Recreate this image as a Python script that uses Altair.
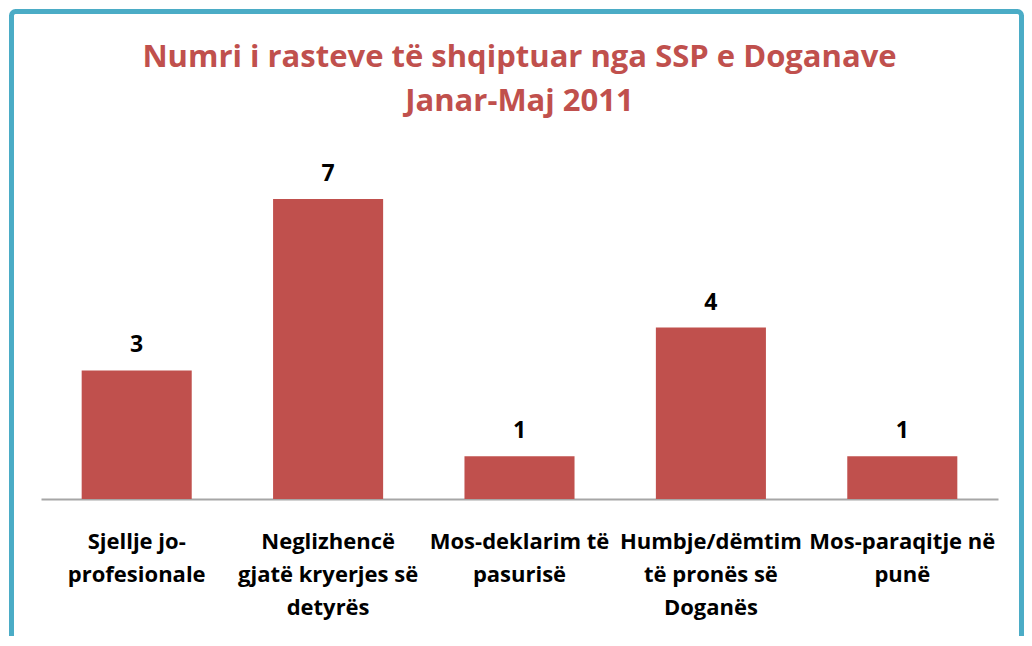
import altair as alt
import pandas as pd

categories = [
    "Sjellje jo-|profesionale",
    "Neglizhencë|gjatë kryerjes së|detyrës",
    "Mos-deklarim të|pasurisë",
    "Humbje/dëmtim|të pronës së|Doganës",
    "Mos-paraqitje në|punë",
]
values = [3, 7, 1, 4, 1]
title_lines = ["Numri i rasteve të shqiptuar nga SSP e Doganave", "Janar-Maj 2011"]

df = pd.DataFrame({"cat": categories, "val": values})

RED = "#C0504D"
FONT = "Open Sans"

x_enc = alt.X(
    "cat:N",
    sort=categories,
    scale=alt.Scale(paddingInner=0.425, paddingOuter=0.2125),
    axis=alt.Axis(
        title=None,
        ticks=False,
        domainColor="#A6A6A6",
        domainWidth=2,
        labelAngle=0,
        labelFont=FONT,
        labelFontSize=22,
        labelFontWeight="bold",
        labelColor="#000000",
        labelPadding=32,
        labelLimit=0,
        labelOverlap=False,
        labelBound=False,
        labelLineHeight=33,
        labelBaseline="top",
        labelExpr="split(datum.label, '|')",
    ),
)
y_enc = alt.Y("val:Q", scale=alt.Scale(domain=[0, 8], nice=False), axis=None)

base = alt.Chart(df)
bars = base.mark_bar(color=RED).encode(x=x_enc, y=y_enc)
labels = base.mark_text(
    font=FONT, fontSize=23, fontWeight="bold", color="#000000", baseline="bottom", dy=-13
).encode(x=alt.X("cat:N", sort=categories), y="val:Q", text="val:Q")

border = alt.Chart(pd.DataFrame({"a": [0]})).mark_rect(
    fill=None, stroke="#4BACC6", strokeWidth=5, cornerRadius=4
).encode(
    x=alt.value(-29.5), x2=alt.value(980.5), y=alt.value(-144.5), y2=alt.value(600)
)

chart = (
    alt.layer(border, bars, labels)
    .properties(
        width=957,
        height=343,
        background="white",
        autosize=alt.AutoSizeParams(type="none"),
        padding={"left": 33, "top": 148, "right": 26, "bottom": 137},
        title=alt.TitleParams(
            text=title_lines,
            font=FONT,
            fontSize=31,
            fontWeight="bold",
            color=RED,
            lineHeight=44,
            anchor="middle",
            offset=42,
            dy=151,
        ),
    )
    .configure_view(strokeWidth=0, stroke="transparent")
)

chart.save("out.html", embed_options={"renderer": "svg", "actions": False})
